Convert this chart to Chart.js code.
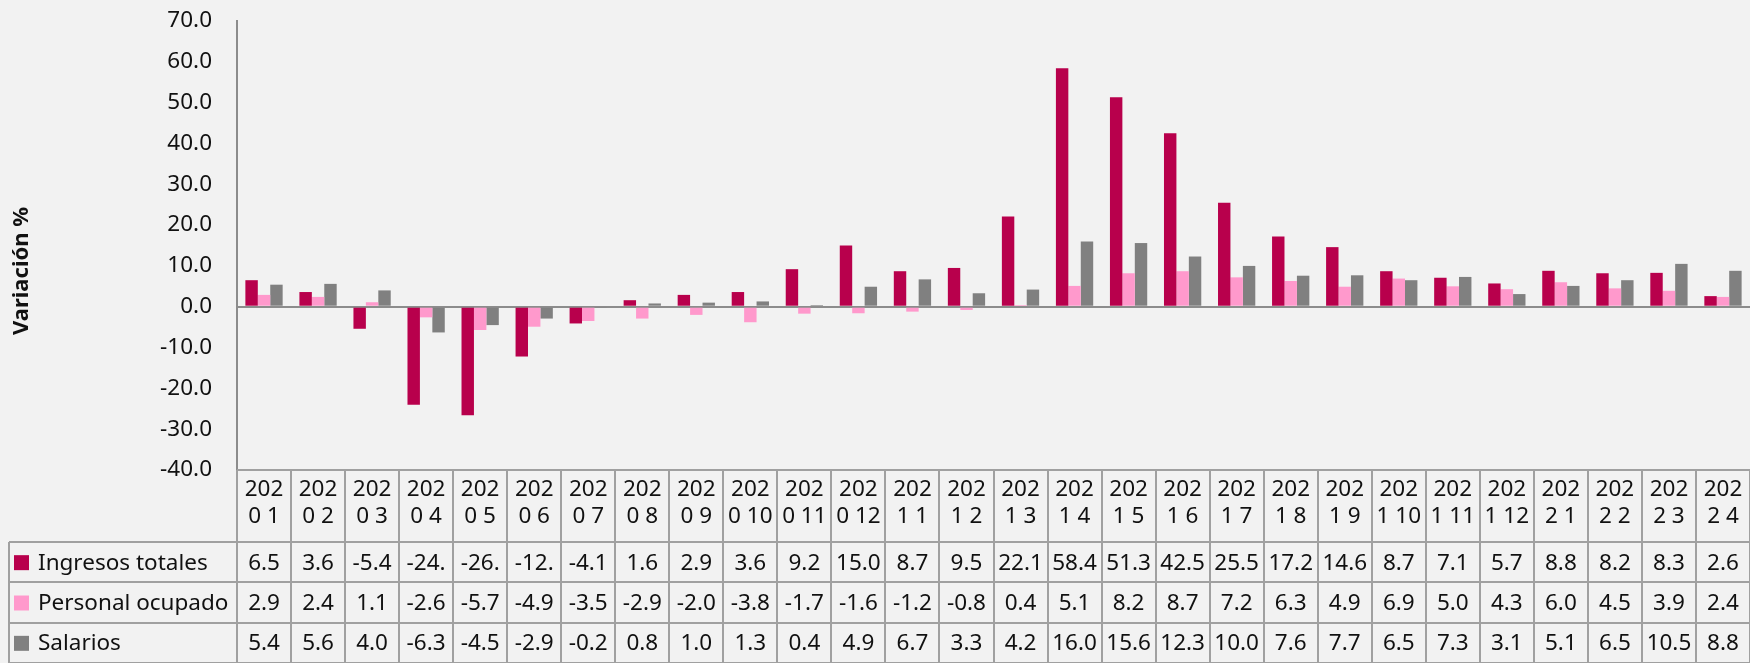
<!DOCTYPE html>
<html>
<head>
<meta charset="utf-8">
<script src="https://cdn.jsdelivr.net/npm/chart.js@4"></script>
<style>
  html, body { margin: 0; padding: 0; background: #F2F2F2; }
  #chart { display: block; }
</style>
</head>
<body>
<canvas id="chart" width="1750" height="663"></canvas>
<script>
// data
const categories = ['2020 1', '2020 2', '2020 3', '2020 4', '2020 5', '2020 6', '2020 7', '2020 8', '2020 9', '2020 10',
    '2020 11', '2020 12', '2021 1', '2021 2', '2021 3', '2021 4', '2021 5', '2021 6', '2021 7', '2021 8',
    '2021 9', '2021 10', '2021 11', '2021 12', '2022 1', '2022 2', '2022 3', '2022 4'];
const ingresos = [6.5, 3.6, -5.4, -24.0, -26.6, -12.2, -4.1, 1.6, 2.9, 3.6, 9.2, 15.0, 8.7, 9.5, 22.1, 58.4,
    51.3, 42.5, 25.5, 17.2, 14.6, 8.7, 7.1, 5.7, 8.8, 8.2, 8.3, 2.6];
const personal = [2.9, 2.4, 1.1, -2.6, -5.7, -4.9, -3.5, -2.9, -2.0, -3.8, -1.7, -1.6, -1.2, -0.8, 0.4, 5.1,
    8.2, 8.7, 7.2, 6.3, 4.9, 6.9, 5.0, 4.3, 6.0, 4.5, 3.9, 2.4];
const salarios = [5.4, 5.6, 4.0, -6.3, -4.5, -2.9, -0.2, 0.8, 1.0, 1.3, 0.4, 4.9, 6.7, 3.3, 4.2, 16.0,
    15.6, 12.3, 10.0, 7.6, 7.7, 6.5, 7.3, 3.1, 5.1, 6.5, 10.5, 8.8];
const seriesNames = ['Ingresos totales', 'Personal ocupado', 'Salarios'];
const seriesColors = ['#B8004C', '#FF99CC', '#808080'];
const yTitle = 'Variación %';

const FONT = '"Noto Sans", "Open Sans", sans-serif';
const FS = 22.5;
const LINE = '#A0A0A0';

const bgPlugin = {
    id: 'bg',
    beforeDraw(chart) {
        const ctx = chart.ctx;
        ctx.save();
        ctx.fillStyle = '#F2F2F2';
        ctx.fillRect(0, 0, chart.width, chart.height);
        ctx.restore();
    }
};

// data table drawn under the x axis, columns follow the x scale
const tablePlugin = {
    id: 'dataTable',
    afterDraw(chart) {
        const ctx = chart.ctx;
        const x = chart.scales.x;
        const area = chart.chartArea;
        const headTop = area.bottom;
        const headBottom = x.bottom;
        const rowH = (chart.height - headBottom) / 3;
        const left = 9;
        const right = chart.width;
        const colW = x.getPixelForValue(1) - x.getPixelForValue(0);

        ctx.save();
        ctx.strokeStyle = LINE;
        ctx.lineWidth = 2;
        ctx.beginPath();
        // header row top
        ctx.moveTo(area.left, headTop);
        ctx.lineTo(right, headTop);
        // column separators
        for (let i = 0; i <= categories.length; i++) {
            const px = Math.round(x.getPixelForValue(i) - colW / 2);
            ctx.moveTo(px, headTop);
            ctx.lineTo(px, chart.height);
        }
        // data rows
        for (let r = 0; r <= 3; r++) {
            const py = Math.round(headBottom + r * rowH);
            ctx.moveTo(left, py);
            ctx.lineTo(right, py);
        }
        ctx.moveTo(left, headBottom);
        ctx.lineTo(left, chart.height);
        ctx.stroke();

        const rows = [ingresos, personal, salarios];
        ctx.font = FS + 'px ' + FONT;
        ctx.textBaseline = 'middle';
        rows.forEach((vals, r) => {
            const cy = headBottom + r * rowH + rowH / 2;
            ctx.fillStyle = seriesColors[r];
            ctx.fillRect(left + 5, cy - 7, 15, 15);
            ctx.fillStyle = '#111';
            ctx.textAlign = 'left';
            ctx.fillText(seriesNames[r], left + 29, cy + 1);
            ctx.textAlign = 'center';
            vals.forEach((v, i) => {
                let s = v.toFixed(1);
                while (ctx.measureText(s).width > colW - 4 && s.length > 1) s = s.slice(0, -1);
                ctx.fillText(s, x.getPixelForValue(i), cy + 1);
            });
        });

        // y axis title, sits a bit lower than the plot centre like the original
        ctx.translate(22, 271);
        ctx.rotate(-Math.PI / 2);
        ctx.font = 'bold 22px ' + FONT;
        ctx.textAlign = 'center';
        ctx.fillText(yTitle, 0, 0);
        ctx.restore();
    }
};

new Chart(document.getElementById('chart').getContext('2d'), {
    type: 'bar',
    data: {
        labels: categories,
        datasets: seriesNames.map((name, k) => ({
            label: name,
            data: [ingresos, personal, salarios][k],
            backgroundColor: seriesColors[k],
            borderWidth: 0,
            barPercentage: 1,
            categoryPercentage: 0.69
        }))
    },
    options: {
        responsive: false,
        devicePixelRatio: 1,
        animation: false,
        layout: { padding: { top: 21, right: 0, bottom: 121, left: 0 } },
        plugins: {
            legend: { display: false },
            tooltip: { enabled: false }
        },
        scales: {
            x: {
                grid: { display: false, drawTicks: false },
                border: { display: false },
                ticks: {
                    color: '#111',
                    font: { family: FONT, size: FS, lineHeight: 1.2 },
                    padding: 6,
                    maxRotation: 0,
                    autoSkip: false,
                    callback(value) {
                        const lab = this.getLabelForValue(value);
                        return [lab.slice(0, 3), lab.slice(3)];
                    }
                },
                afterFit(scale) { scale.height = 72; }
            },
            y: {
                min: -40,
                max: 70,
                ticks: {
                    stepSize: 10,
                    color: '#111',
                    padding: 25,
                    font: { family: FONT, size: FS },
                    callback: v => v.toFixed(1)
                },
                grid: {
                    drawTicks: false,
                    lineWidth: 2,
                    color: c => (c.tick && c.tick.value === 0 ? '#8C8C8C' : 'transparent')
                },
                border: { display: true, color: '#8C8C8C', width: 2 },
                title: { display: false },
                afterFit(scale) {
                    scale.width = 237;
                    scale.paddingTop = 0;
                    scale.paddingBottom = 0;
                }
            }
        }
    },
    plugins: [bgPlugin, tablePlugin]
});
</script>
</body>
</html>
